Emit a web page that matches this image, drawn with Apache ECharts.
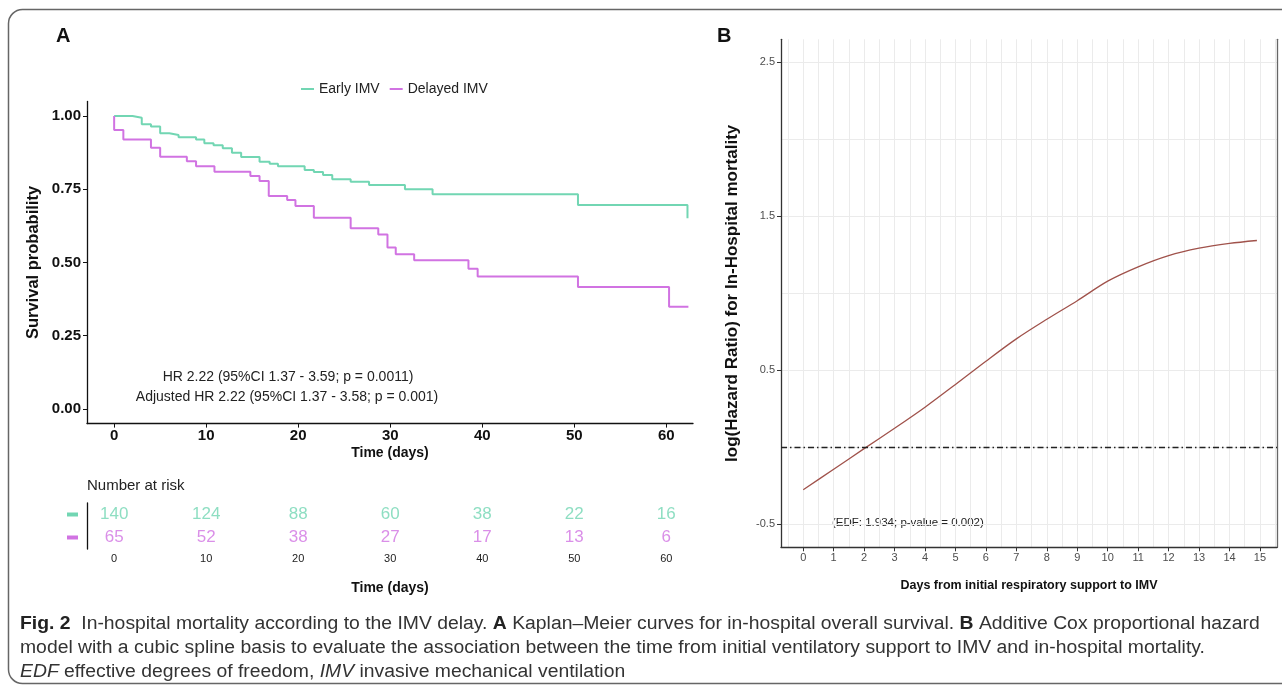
<!DOCTYPE html>
<html>
<head>
<meta charset="utf-8">
<script src="https://cdn.jsdelivr.net/npm/echarts@6/dist/echarts.min.js"></script>
<style>
html, body { margin: 0; padding: 0; background: #fff; }
#chart { width: 1282px; height: 685px; }
</style>
</head>
<body>
<div id="chart"></div>
<script>
// panel A - Kaplan-Meier steps, [day, survival]
const earlyKM = [[0, 1], [2.0, 0.994], [3.0, 0.972], [4.0, 0.964], [5.0, 0.941], [6.0, 0.935], [7.0, 0.928],
  [8.9, 0.920], [9.8, 0.907], [10.8, 0.900], [11.8, 0.890], [12.8, 0.875], [13.8, 0.860], [15.8, 0.844],
  [16.9, 0.837], [17.8, 0.829], [20.7, 0.816], [21.7, 0.809], [22.7, 0.799], [23.7, 0.784], [25.7, 0.776],
  [27.7, 0.765], [31.6, 0.750], [34.6, 0.733], [50.4, 0.696], [62.3, 0.651]]
const delayedKM = [[0, 1], [0, 0.952], [1.0, 0.920], [4.0, 0.892], [5.0, 0.861], [7.9, 0.846], [8.9, 0.829],
  [10.9, 0.810], [14.8, 0.795], [15.8, 0.778], [16.8, 0.727], [18.8, 0.713], [19.7, 0.693], [21.7, 0.653],
  [25.7, 0.617], [28.7, 0.596], [29.7, 0.551], [30.6, 0.528], [32.6, 0.508], [38.5, 0.479], [39.5, 0.452],
  [50.4, 0.416], [60.3, 0.349], [62.4, 0.349]]
const kmTicksX = [0, 10, 20, 30, 40, 50, 60]
const kmTicksY = [0, 0.25, 0.5, 0.75, 1]

// number at risk
const riskDays = [0, 10, 20, 30, 40, 50, 60]
const riskEarly = [140, 124, 88, 60, 38, 22, 16]
const riskDelayed = [65, 52, 38, 27, 17, 13, 6]

// panel B - spline of log(HR)
const hazDays = [0, 1, 2, 3, 4, 5, 6, 7, 8, 9, 10, 11, 12, 13, 14, 14.9]
const hazLogHR = [-0.276, -0.143, -0.009, 0.123, 0.26, 0.408, 0.559, 0.704, 0.831, 0.952, 1.079, 1.172, 1.245, 1.293, 1.324, 1.343]
const hazTicksX = [0, 1, 2, 3, 4, 5, 6, 7, 8, 9, 10, 11, 12, 13, 14, 15]
const hazTicksY = [-0.5, 0.5, 1.5, 2.5]

const green = '#72d6b3'
const pink = '#d173e2'
const sans = '"Liberation Sans", Arial, sans-serif'

const chart = echarts.init(document.getElementById('chart'), null, { renderer: 'canvas' })

const boldAxis = (size) => ({ fontFamily: sans, fontWeight: 'bold', fontSize: size, color: '#111' })

const option = {
  animation: false,
  legend: {
    data: ['Early IMV', 'Delayed IMV'],
    left: 296,
    top: 77,
    icon: 'rect',
    itemWidth: 13,
    itemHeight: 2,
    itemGap: 10,
    textStyle: { fontFamily: sans, fontSize: 14, color: '#222' }
  },
  grid: [
    { left: 87, top: 101.4, width: 606, height: 322.2 },
    { left: 87, top: 503, width: 606, height: 46 },
    { left: 781, top: 39.3, width: 496, height: 508 }
  ],
  xAxis: [
    {
      gridIndex: 0, type: 'value', min: -2.95, max: 62.9,
      axisLine: { onZero: false, lineStyle: { color: '#111', width: 1.3 } },
      axisTick: { customValues: kmTicksX, length: 4, lineStyle: { color: '#111' } },
      axisLabel: { customValues: kmTicksX, margin: 5, ...boldAxis(15) },
      splitLine: { show: false },
      name: 'Time (days)', nameLocation: 'middle', nameGap: 23,
      nameTextStyle: boldAxis(14)
    },
    {
      gridIndex: 1, type: 'value', min: -2.95, max: 62.9,
      axisLine: { onZero: false, lineStyle: { color: '#111', width: 1.3 } },
      axisTick: { customValues: riskDays, length: 4, lineStyle: { color: '#111' } },
      axisLabel: { customValues: riskDays, margin: 4, fontFamily: sans, fontSize: 11, color: '#222' },
      splitLine: { show: false },
      name: 'Time (days)', nameLocation: 'middle', nameGap: 32,
      nameTextStyle: boldAxis(14)
    },
    {
      gridIndex: 2, type: 'value', min: -0.73, max: 15.56,
      axisLine: { onZero: false, lineStyle: { color: '#333', width: 1.3 } },
      axisTick: { customValues: hazTicksX, length: 4, lineStyle: { color: '#333' } },
      axisLabel: { customValues: hazTicksX, margin: 5, fontFamily: sans, fontSize: 11, color: '#4d4d4d' },
      splitLine: { show: false },
      name: 'Days from initial respiratory support to IMV', nameLocation: 'middle', nameGap: 32,
      nameTextStyle: { fontFamily: sans, fontWeight: 'bold', fontSize: 12.5, color: '#111' }
    },
    {
      // grid lines only
      gridIndex: 2, type: 'value', min: -0.73, max: 15.56, position: 'top',
      minInterval: 0.5, maxInterval: 0.5,
      axisLine: { show: false }, axisTick: { show: false }, axisLabel: { show: false },
      splitLine: { show: true, showMinLine: false, showMaxLine: false, lineStyle: { color: '#ebebeb', width: 1 } }
    }
  ],
  yAxis: [
    {
      gridIndex: 0, type: 'value', min: -0.05, max: 1.05,
      axisLine: { show: true, onZero: false, lineStyle: { color: '#111', width: 1.3 } },
      axisTick: { show: true, customValues: kmTicksY, length: 4, lineStyle: { color: '#111' } },
      axisLabel: { customValues: kmTicksY, margin: 6, formatter: (v) => v.toFixed(2), ...boldAxis(15) },
      splitLine: { show: false },
      name: 'Survival probability', nameLocation: 'middle', nameGap: 45,
      nameTextStyle: boldAxis(16.5)
    },
    {
      gridIndex: 1, type: 'category', data: ['Delayed IMV', 'Early IMV'],
      axisLine: { show: true, onZero: false, lineStyle: { color: '#111', width: 1.3 } },
      axisTick: { show: false },
      axisLabel: {
        margin: 9,
        formatter: (v) => (v === 'Early IMV' ? '{e|}' : '{d|}'),
        rich: {
          e: { backgroundColor: green, width: 11, height: 4 },
          d: { backgroundColor: pink, width: 11, height: 4 }
        }
      }
    },
    {
      gridIndex: 2, type: 'value', min: -0.65, max: 2.65,
      axisLine: { show: true, onZero: false, lineStyle: { color: '#333', width: 1.3 } },
      axisTick: { show: true, customValues: hazTicksY, length: 4, lineStyle: { color: '#333' } },
      axisLabel: { customValues: hazTicksY, margin: 6, fontFamily: sans, fontSize: 11, color: '#4d4d4d' },
      splitLine: { show: false },
      name: 'log(Hazard Ratio) for In-Hospital mortality', nameLocation: 'middle', nameGap: 40,
      nameTextStyle: { fontFamily: sans, fontWeight: 'bold', fontSize: 17, color: '#111' }
    },
    {
      // grid lines and the right border
      gridIndex: 2, type: 'value', min: -0.65, max: 2.65, position: 'right',
      minInterval: 0.5, maxInterval: 0.5,
      axisLine: { show: true, onZero: false, lineStyle: { color: '#666', width: 1.3 } },
      axisTick: { show: false }, axisLabel: { show: false },
      splitLine: { show: true, showMinLine: false, showMaxLine: false, lineStyle: { color: '#ebebeb', width: 1 } }
    }
  ],
  series: [
    {
      name: 'Early IMV', type: 'line', xAxisIndex: 0, yAxisIndex: 0, step: 'end',
      data: earlyKM, showSymbol: false, symbol: 'none',
      lineStyle: { color: green, width: 2 }, itemStyle: { color: green }
    },
    {
      name: 'Delayed IMV', type: 'line', xAxisIndex: 0, yAxisIndex: 0, step: 'end',
      data: delayedKM, showSymbol: false, symbol: 'none',
      lineStyle: { color: pink, width: 2 }, itemStyle: { color: pink }
    },
    {
      name: 'risk early', type: 'scatter', xAxisIndex: 1, yAxisIndex: 1,
      data: riskDays.map((d, i) => [d, 'Early IMV', riskEarly[i]]),
      symbolSize: 1, itemStyle: { color: 'transparent' },
      label: { show: true, position: 'inside', formatter: (p) => p.value[2], color: green, fontFamily: sans, fontSize: 17 }
    },
    {
      name: 'risk delayed', type: 'scatter', xAxisIndex: 1, yAxisIndex: 1,
      data: riskDays.map((d, i) => [d, 'Delayed IMV', riskDelayed[i]]),
      symbolSize: 1, itemStyle: { color: 'transparent' },
      label: { show: true, position: 'inside', formatter: (p) => p.value[2], color: pink, fontFamily: sans, fontSize: 17 }
    },
    {
      name: 'log HR', type: 'line', xAxisIndex: 2, yAxisIndex: 2, smooth: 0.3,
      data: hazDays.map((d, i) => [d, hazLogHR[i]]), showSymbol: false, symbol: 'none',
      lineStyle: { color: '#a0524b', width: 1.3 },
      markLine: {
        silent: true, symbol: 'none', label: { show: false },
        lineStyle: { color: '#222', width: 1.4, type: [6, 3, 1.5, 3] },
        data: [{ yAxis: 0 }]
      }
    }
  ],
  graphic: [
    {
      type: 'rect', shape: { x: 8.5, y: 9.5, width: 1300, height: 674, r: [14, 0, 0, 14] },
      style: { fill: 'none', stroke: '#666', lineWidth: 1.5 }
    },
    { type: 'text', x: 56, y: 26, style: { text: 'A', font: 'bold 20px ' + sans, fill: '#111' } },
    { type: 'text', x: 717, y: 26, style: { text: 'B', font: 'bold 20px ' + sans, fill: '#111' } },
    {
      type: 'text', x: 288, y: 377,
      style: { text: 'HR 2.22 (95%CI 1.37 - 3.59; p = 0.0011)', font: '14px ' + sans, fill: '#222', align: 'center', verticalAlign: 'middle' }
    },
    {
      type: 'text', x: 287, y: 397,
      style: { text: 'Adjusted HR 2.22 (95%CI 1.37 - 3.58; p = 0.001)', font: '14px ' + sans, fill: '#222', align: 'center', verticalAlign: 'middle' }
    },
    {
      type: 'text', x: 87, y: 486,
      style: { text: 'Number at risk', font: '15px ' + sans, fill: '#222', verticalAlign: 'middle' }
    },
    {
      type: 'text', x: 832, y: 523,
      style: { text: '(EDF: 1.934; p-value = 0.002)', font: '11.5px ' + sans, fill: '#222', verticalAlign: 'middle' }
    },
    {
      type: 'text', x: 20, y: 612, scaleX: 1.075,
      style: {
        text: '{b|Fig. 2}  In-hospital mortality according to the IMV delay. {b|A} Kaplan–Meier curves for in-hospital overall survival. {b|B} Additive Cox proportional hazard\n' +
          'model with a cubic spline basis to evaluate the association between the time from initial ventilatory support to IMV and in-hospital mortality.\n' +
          '{i|EDF} effective degrees of freedom, {i|IMV} invasive mechanical ventilation',
        fontFamily: sans, fontSize: 18, fill: '#333', lineHeight: 24,
        rich: {
          b: { fontFamily: sans, fontSize: 18, fontWeight: 'bold', lineHeight: 24, fill: '#222' },
          i: { fontFamily: sans, fontSize: 18, fontStyle: 'italic', lineHeight: 24, fill: '#333' }
        }
      }
    }
  ]
}

chart.setOption(option)
</script>
</body>
</html>
